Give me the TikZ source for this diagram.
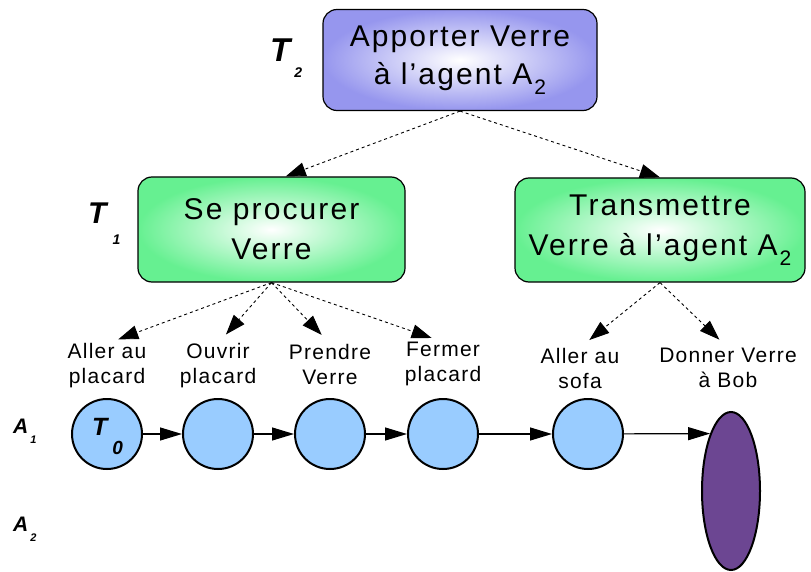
\documentclass[tikz,border=0pt]{standalone}
\usepackage{fontspec}
\setmainfont{Liberation Sans}
\usetikzlibrary{arrows.meta, shapes.geometric}
\definecolor{taskblue}{RGB}{150,150,238}
\definecolor{subgreen}{RGB}{102,240,145}
\definecolor{actblue}{RGB}{153,204,255}
\definecolor{goalpurple}{RGB}{108,70,146}
% subscript set low, as in the drawing
\newcommand{\lowsub}[2]{#1\kern2pt\raisebox{-10pt}{\fontsize{21}{21}\selectfont #2}}
% bold italic labels T_i and A_i
\newcommand{\bitlbl}[6]{\textbf{\textit{\fontsize{#3}{#3}\selectfont #1\kern#5\raisebox{-#4}{\fontsize{#6}{#6}\selectfont #2}}}}

\begin{document}
\begin{tikzpicture}[x = 1pt, y = -1pt,
		taskbox/.style = {draw, line width = 1.2pt, rounded corners = 14pt, shading = radial,
			inner color = white, align = center, font = \fontsize{30}{40}\selectfont\addfontfeature{LetterSpace = 7}},
		dep/.style = {-{Triangle[length = 20pt, width = 14pt]}, dash pattern = on 3pt off 3pt, line width = 0.9pt},
		seq/.style = {-{Triangle[length = 22pt, width = 13pt]}, line width = 1.2pt},
		act/.style = {circle, draw, line width = 2pt, fill = actblue, minimum size = 70pt, inner sep = 0pt},
		lbl/.style = {align = center, inner sep = 0pt, font = \fontsize{21}{25}\selectfont\addfontfeature{LetterSpace = 6}}]
		%%%%%%%%%%%%%
		\useasboundingbox (0, 0) rectangle (811, 572);
		%%%%%%%%%%%%%
		\node [taskbox, outer color = taskblue, minimum width = 274pt, minimum height = 101pt] (apporter) at (460, 60)
			{Apporter Verre\\[-2pt]à l'agent \lowsub{A}{2}};
		\node [taskbox, outer color = subgreen, minimum width = 267pt, minimum height = 105pt] (procurer) at (271.5, 229.5)
			{Se procurer\\Verre};
		\node [taskbox, outer color = subgreen, minimum width = 290pt, minimum height = 104pt] (transmettre) at (660, 230)
			{Transmettre\\Verre à l'agent \lowsub{A}{2}};
		%%%%%%%%%%%%%
		\node [anchor = base west, inner sep = 0pt] (t2) at (270, 62) {\bitlbl{T}{2}{33pt}{16pt}{4pt}{14pt}};
		\node [anchor = base west, inner sep = 0pt] (t1) at (88, 223) {\bitlbl{T}{1}{30pt}{21pt}{6pt}{14pt}};
		\node [anchor = base west, inner sep = 0pt] (a1) at (13, 433) {\bitlbl{A}{1}{21pt}{10pt}{2pt}{11pt}};
		\node [anchor = base west, inner sep = 0pt] (a2) at (13, 531) {\bitlbl{A}{2}{21pt}{10pt}{2pt}{11pt}};
		%%%%%%%%%%%%%
		\node [lbl] (l1) at (107, 366) {Aller au\\placard};
		\node [lbl] (l2) at (218, 366) {Ouvrir\\placard};
		\node [lbl] (l3) at (330, 364) {Prendre\\Verre};
		\node [lbl] (l4) at (443, 364) {Fermer\\placard};
		\node [lbl] (l5) at (580, 368) {Aller au\\sofa};
		\node [lbl] (l6) at (728, 368) {Donner Verre\\à Bob};
		%%%%%%%%%%%%%
		\node [act] (c1) at (107, 434) {};
		\node [anchor = base west, inner sep = 0pt] (t0) at (92, 435) {\bitlbl{T}{0}{25pt}{19pt}{5pt}{19pt}};
		\node [act] (c2) at (218, 434) {};
		\node [act] (c3) at (330, 434) {};
		\node [act] (c4) at (443, 434) {};
		\node [act] (c5) at (588, 434) {};
		\node [ellipse, draw, line width = 2pt, fill = goalpurple, minimum width = 58pt, minimum height = 158pt, inner sep = 0pt] (bob) at (731, 491) {};
		%%%%%%%%%%%%%
		\draw [dep] (apporter.south) to (procurer.75);
		\draw [dep] (apporter.south) to (transmettre.north);
		\draw [dep, shorten > = 12pt] (procurer.south) to (l1.north);
		\draw [dep, shorten > = 12pt] (procurer.south) to (l2.north);
		\draw [dep, shorten > = 12pt] (procurer.south) to (l3.north);
		\draw [dep, shorten > = 12pt] (procurer.south) to (l4.north);
		\draw [dep, shorten > = 12pt] (transmettre.south) to (l5.north);
		\draw [dep, shorten > = 12pt] (transmettre.south) to (l6.north);
		%%%%%%%%%%%%%
		\draw [seq] (c1) to (c2);
		\draw [seq] (c2) to (c3);
		\draw [seq] (c3) to (c4);
		\draw [seq] (c4) to (c5);
		\draw [seq] (c5) to (bob.110);
\end{tikzpicture}
\end{document}
